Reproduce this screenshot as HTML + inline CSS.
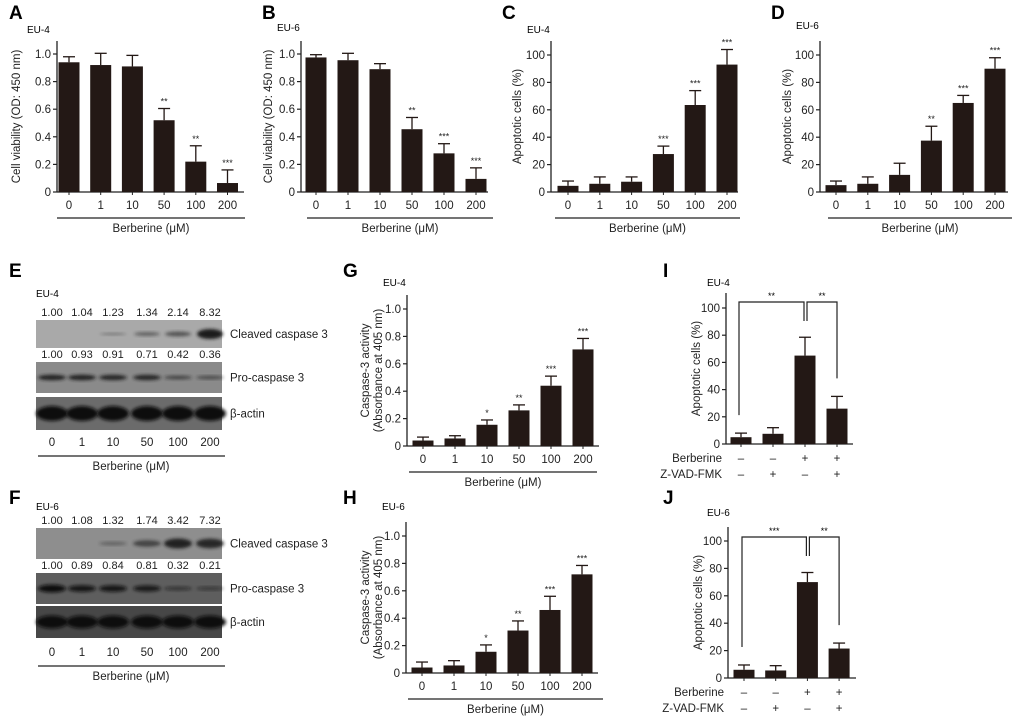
<!DOCTYPE html>
<html><head><meta charset="utf-8">
<style>
html,body{margin:0;padding:0;background:#fff;}
svg{display:block;font-family:"Liberation Sans",Arial,sans-serif;}
</style></head>
<body>
<svg id="fig" width="1020" height="718" viewBox="0 0 1020 718" xmlns="http://www.w3.org/2000/svg">
<defs>
<filter id="blur" x="-20%" y="-50%" width="140%" height="200%"><feGaussianBlur stdDeviation="1.6"/></filter>
</defs>
<g font-weight="bold" font-size="19" fill="#000">
<text x="9" y="19">A</text>
<text x="262" y="19">B</text>
<text x="502" y="19">C</text>
<text x="771" y="19">D</text>
<text x="9" y="277">E</text>
<text x="343" y="277">G</text>
<text x="663" y="277">I</text>
<text x="9" y="504">F</text>
<text x="343" y="504">H</text>
<text x="663" y="504">J</text>
</g>
<g id="charts"></g>
<g id="blots"></g>
</svg>
<script>
// ---- data ----
const doseCats = ["0","1","10","50","100","200"];
const aVals = [0.94,0.92,0.91,0.52,0.22,0.065];
const aErr  = [0.98,1.005,0.99,0.605,0.335,0.16];
const aSig  = ["","","","**","**","***"];
const bVals = [0.975,0.955,0.89,0.455,0.28,0.095];
const bErr  = [0.995,1.005,0.93,0.54,0.35,0.175];
const bSig  = ["","","","**","***","***"];
const cVals = [4.5,6,7.5,27.7,63.5,93];
const cErr  = [8,11,11,33.5,74,104];
const cSig  = ["","","","***","***","***"];
const dVals = [5,6,12.5,37.5,65,90];
const dErr  = [8,11,21,48,70.5,98];
const dSig  = ["","","","**","***","***"];
const gVals = [0.04,0.055,0.155,0.26,0.44,0.705];
const gErr  = [0.065,0.075,0.19,0.3,0.51,0.785];
const gSig  = ["","","*","**","***","***"];
const hVals = [0.04,0.055,0.155,0.31,0.46,0.72];
const hErr  = [0.08,0.09,0.205,0.38,0.56,0.785];
const hSig  = ["","","*","**","***","***"];
const iVals = [5,7.5,65,26];
const iErr  = [8,12,78.5,35];
const jVals = [6,5.5,70,21.5];
const jErr  = [9.5,9,77,25.5];
const berbSigns = ["–","–","+","+"];
const zvadSigns = ["–","+","–","+"];
const iBrackets = ["**","**"];
const jBrackets = ["***","**"];
const ticks1 = [0,0.2,0.4,0.6,0.8,1.0];
const tickLabels1 = ["0","0.2","0.4","0.6","0.8","1.0"];
const ticks100 = [0,20,40,60,80,100];
const tickLabels100 = ["0","20","40","60","80","100"];
// blots
const eCleavedNums = ["1.00","1.04","1.23","1.34","2.14","8.32"];
const eProNums = ["1.00","0.93","0.91","0.71","0.42","0.36"];
const fCleavedNums = ["1.00","1.08","1.32","1.74","3.42","7.32"];
const fProNums = ["1.00","0.89","0.84","0.81","0.32","0.21"];
const eCleavedInt = [0,0,0.15,0.3,0.4,0.9];
const eProInt = [0.75,0.75,0.72,0.72,0.45,0.4];
const fCleavedInt = [0,0,0.2,0.45,0.75,0.7,0.9];
const fProInt = [0.85,0.7,0.7,0.65,0.35,0.3];

const NS="http://www.w3.org/2000/svg";
const charts=document.getElementById('charts');
function mk(tag,attrs,parent,text){const e=document.createElementNS(NS,tag);for(const k in attrs)e.setAttribute(k,attrs[k]);if(text!==undefined)e.textContent=text;(parent||charts).appendChild(e);return e;}

function barChart(c){
  const g=mk('g',{});
  
  
  const yS=v=>c.y0-(v/c.max)*(c.y0-c.y1);
  const xS=i=>c.x0c+i*c.step;
  const lab=mk('text',{x:c.lx,y:c.ly,'font-size':10},g,c.cell);
  
  
  const ya=mk('line',{x1:c.ax,y1:c.atop,x2:c.ax,y2:c.y0,stroke:'#222','stroke-width':1.3},g);
  
  
  const xa=mk('line',{x1:c.ax,y1:c.y0,x2:c.aend,y2:c.y0,stroke:'#222','stroke-width':1.3},g);
  
  
  c.ticks.forEach((t,k)=>{
    mk('line',{x1:c.ax-4,y1:yS(t),x2:c.ax,y2:yS(t),stroke:'#222','stroke-width':1.2},g);
    const tl=mk('text',{x:c.ax-6,y:yS(t)+4,'font-size':11.5,'text-anchor':'end',fill:'#222'},g,c.tickLabels[k]);
    
    
  });
  const tt=mk('text',{transform:`translate(${c.tx},${(c.atop+c.y0)/2}) rotate(-90)`,'font-size':11.5,'text-anchor':'middle',fill:'#222'},g);
  
  
  c.title.forEach((s,k)=>{mk('tspan',{x:0,dy:k?13:0},tt,s);});
  c.vals.forEach((v,i)=>{
    const cx=xS(i);
    const r=mk('rect',{x:cx-10.5,y:yS(v),width:21,height:c.y0-yS(v),fill:'#231815'},g);
    
    
    const e=c.err[i];
    const el=mk('line',{x1:cx,y1:yS(v),x2:cx,y2:yS(e),stroke:'#231815','stroke-width':1.3},g);
    
    
    mk('line',{x1:cx-6,y1:yS(e),x2:cx+6,y2:yS(e),stroke:'#231815','stroke-width':1.3},g);
    if(c.sig&&c.sig[i]){
      const s=mk('text',{x:cx,y:yS(e)-4,'font-size':9,'text-anchor':'middle',fill:'#222'},g,c.sig[i]);
      
      
    }
    mk('line',{x1:cx,y1:c.y0,x2:cx,y2:c.y0+3,stroke:'#222','stroke-width':1},g);
    if(c.cats){
      const xl=mk('text',{x:cx,y:c.y0+17,'font-size':11.5,'text-anchor':'middle',fill:'#222'},g,c.cats[i]);
      
      
    }
  });
  if(c.cats){
    const ul=mk('line',{x1:c.ux1,y1:c.y0+26,x2:c.ux2,y2:c.y0+26,stroke:'#222','stroke-width':1.2},g);
    
    
    const bl=mk('text',{x:(c.ux1+c.ux2)/2,y:c.y0+40,'font-size':11.5,'text-anchor':'middle',fill:'#222'},g,'Berberine (μM)');
    
    
  }
  if(c.signs){
    const r1=mk('text',{x:c.ax-4,y:c.y0+18,'font-size':11.5,'text-anchor':'end',fill:'#222'},g,'Berberine');
    
    
    const r2=mk('text',{x:c.ax-4,y:c.y0+34,'font-size':11.5,'text-anchor':'end',fill:'#222'},g,'Z-VAD-FMK');
    
    
    c.vals.forEach((v,i)=>{
      const a=mk('text',{x:xS(i),y:c.y0+18,'font-size':11.5,'text-anchor':'middle',fill:'#222'},g,berbSigns[i]);
      
      
      const b=mk('text',{x:xS(i),y:c.y0+34,'font-size':11.5,'text-anchor':'middle',fill:'#222'},g,zvadSigns[i]);
      
      
    });
    const top=c.bTop;
    const b0=xS(0)-2, b2=xS(2)-1, b2r=xS(2)+2, b3=xS(3);
    const p1=mk('path',{d:`M${b0},${yS(c.err[0])-18} V${top} H${b2} V${top+19}`,fill:'none',stroke:'#222','stroke-width':1.2},g);
    
    
    const p2=mk('path',{d:`M${b2r},${top+19} V${top} H${b3} V${yS(c.err[3])-18}`,fill:'none',stroke:'#222','stroke-width':1.2},g);
    
    
    mk('text',{x:(b0+b2)/2,y:top-3,'font-size':9,'text-anchor':'middle'},g,c.brackets[0]);
    mk('text',{x:(b2r+b3)/2,y:top-3,'font-size':9,'text-anchor':'middle'},g,c.brackets[1]);
  }
}

barChart({name:'chart-a',cell:'EU-4',lx:27,ly:33,ax:57,atop:41,aend:244,y0:192,y1:54,max:1,ticks:ticks1,tickLabels:tickLabels1,title:['Cell viability (OD: 450 nm)'],tx:20,vals:aVals,err:aErr,sig:aSig,cats:doseCats,x0c:69,step:31.7,ux1:57,ux2:245});
barChart({name:'chart-b',cell:'EU-6',lx:277,ly:31,ax:301,atop:41,aend:488,y0:192,y1:54,max:1,ticks:ticks1,tickLabels:tickLabels1,title:['Cell viability (OD: 450 nm)'],tx:272,vals:bVals,err:bErr,sig:bSig,cats:doseCats,x0c:316,step:32,ux1:307,ux2:493});
barChart({name:'chart-c',cell:'EU-4',lx:527,ly:33,ax:551,atop:41,aend:738,y0:192,y1:55,max:100,ticks:ticks100,tickLabels:tickLabels100,title:['Apoptotic cells (%)'],tx:521,vals:cVals,err:cErr,sig:cSig,cats:doseCats,x0c:568,step:31.8,ux1:555,ux2:740});
barChart({name:'chart-d',cell:'EU-6',lx:796,ly:29,ax:820,atop:41,aend:1008,y0:192,y1:55,max:100,ticks:ticks100,tickLabels:tickLabels100,title:['Apoptotic cells (%)'],tx:791,vals:dVals,err:dErr,sig:dSig,cats:doseCats,x0c:836,step:31.8,ux1:828,ux2:1012});
barChart({name:'chart-g',cell:'EU-4',lx:383,ly:286,ax:407,atop:295,aend:599,y0:446,y1:309,max:1,ticks:ticks1,tickLabels:tickLabels1,title:['Caspase-3 activity','(Absorbance at 405 nm)'],tx:369,vals:gVals,err:gErr,sig:gSig,cats:doseCats,x0c:423,step:32,ux1:409,ux2:597});
barChart({name:'chart-h',cell:'EU-6',lx:382,ly:510,ax:406,atop:522,aend:598,y0:673,y1:536,max:1,ticks:ticks1,tickLabels:tickLabels1,title:['Caspase-3 activity','(Absorbance at 405 nm)'],tx:369,vals:hVals,err:hErr,sig:hSig,cats:doseCats,x0c:422,step:32,ux1:408,ux2:603});
barChart({name:'chart-i',cell:'EU-4',lx:707,ly:286,ax:726,atop:293,aend:853,y0:444,y1:308,max:100,ticks:ticks100,tickLabels:tickLabels100,title:['Apoptotic cells (%)'],tx:700,vals:iVals,err:iErr,x0c:741,step:32,signs:true,bTop:302,brackets:iBrackets});
barChart({name:'chart-j',cell:'EU-6',lx:707,ly:516,ax:728,atop:527,aend:856,y0:678,y1:541,max:100,ticks:ticks100,tickLabels:tickLabels100,title:['Apoptotic cells (%)'],tx:702,vals:jVals,err:jErr,x0c:744,step:31.7,signs:true,bTop:537,brackets:jBrackets});

// ---- western blots ----
const blots=document.getElementById('blots');
const laneX=[52,82,113,147,178,210];
function blot(p){
  const g=mk('g',{},blots);
  
  
  const l=mk('text',{x:36,y:p.ly,'font-size':10},g,p.cell);
  
  
  p.rows.forEach(r=>{
    if(r.nums){r.nums.forEach((n,i)=>{
      const t=mk('text',{x:laneX[i],y:r.y-4,'font-size':11,'text-anchor':'middle',fill:'#222'},g,n);
      
      
    });}
    const rc=mk('rect',{x:36,y:r.y,width:186,height:r.h,fill:r.bg},g);
    
    
    r.ints.forEach((v,i)=>{
      if(v<=0||i>5)return;
      const b=mk('ellipse',{cx:laneX[i],cy:r.y+r.h/2,rx:r.rx||13,ry:r.bh*v+0.5,fill:r.band,opacity:Math.min(1,v+0.2),filter:'url(#blur)'},g);
      
      
    });
    const lt=mk('text',{x:230,y:r.y+r.h/2+4,'font-size':11.5,fill:'#222'},g,r.label);
    
    
  });
  doseCats.forEach((c,i)=>{
    const t=mk('text',{x:laneX[i],y:p.ty,'font-size':11.5,'text-anchor':'middle',fill:'#222'},g,c);
    
    
  });
  const u=mk('line',{x1:38,y1:p.ty+10,x2:225,y2:p.ty+10,stroke:'#222','stroke-width':1.2},g);
  
  
  const bt=mk('text',{x:131,y:p.ty+24,'font-size':11.5,'text-anchor':'middle',fill:'#222'},g,'Berberine (μM)');
  
  
}
const actinFull=[1,1,1,1,1,1];
blot({name:'blot-e',cell:'EU-4',ly:297,ty:446,rows:[
  {key:'cleaved-caspase-3',label:'Cleaved caspase 3',y:320,h:28,bg:'#a9a9a9',band:'#1a1a1a',bh:5,ints:eCleavedInt,nums:eCleavedNums},
  {key:'pro-caspase-3',label:'Pro-caspase 3',y:362,h:31,bg:'#8a8a8a',band:'#1a1a1a',bh:3,rx:14,ints:eProInt,nums:eProNums},
  {key:'beta-actin',label:'β-actin',y:397,h:33,bg:'#6b6b6b',band:'#111',bh:7,rx:16,ints:actinFull}
]});
blot({name:'blot-f',cell:'EU-6',ly:510,ty:656,rows:[
  {key:'cleaved-caspase-3',label:'Cleaved caspase 3',y:528,h:31,bg:'#8e8e8e',band:'#1a1a1a',bh:6,rx:14,ints:fCleavedInt,nums:fCleavedNums},
  {key:'pro-caspase-3',label:'Pro-caspase 3',y:573,h:31,bg:'#5e5e5e',band:'#111',bh:4,rx:14,ints:fProInt,nums:fProNums},
  {key:'beta-actin',label:'β-actin',y:606,h:32,bg:'#474747',band:'#111',bh:6,rx:16,ints:actinFull}
]});
</script>
</body></html>
